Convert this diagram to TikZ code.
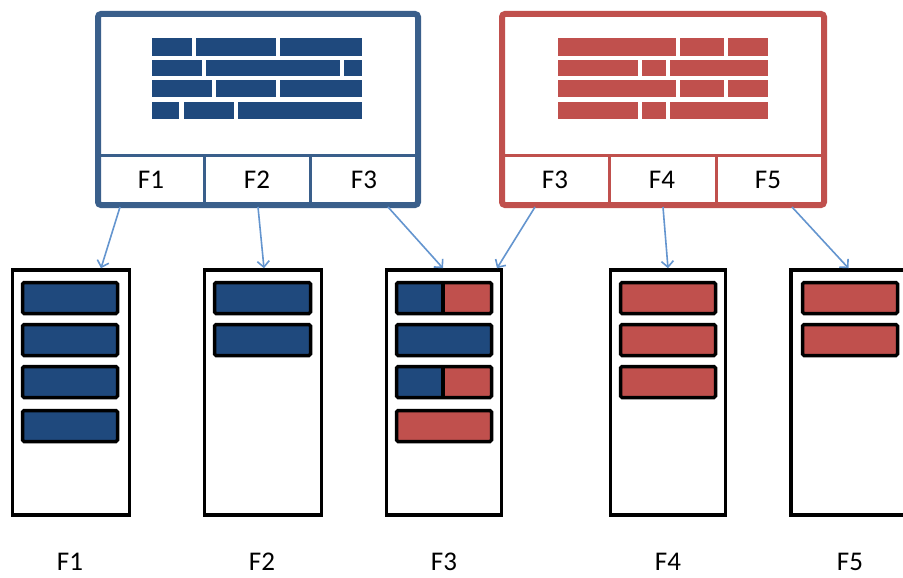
\documentclass[tikz,border=0pt]{standalone}
\usepackage{fontspec}
\setmainfont{Carlito}
\usetikzlibrary{arrows.meta}
\definecolor{bbrick}{HTML}{1F497D}
\definecolor{bline}{HTML}{3A5F8B}
\definecolor{rbrick}{HTML}{C0504D}
\definecolor{rline}{HTML}{C0504D}
\definecolor{arrc}{HTML}{6495CF}
\tikzset{
  topbox/.style={draw=#1, line width=6pt, rounded corners=3pt, inner sep=0pt},
  divider/.style={draw=#1, line width=3pt},
  cell/.style={font=\fontsize{27}{29}\selectfont, text=black, inner sep=0pt},
  lbl/.style={font=\fontsize{27}{29}\selectfont, text=black, inner sep=0pt},
  store/.style={draw=black, line width=3.5pt, fill=white, inner sep=0pt},
  bar/.style={draw=black, line width=3.5pt, rounded corners=1.5pt},
  arr/.style={draw=arrc, line width=1.6pt, -{Straight Barb[length=6pt,width=12pt,line width=1.6pt]}},
}
\begin{document}
\begin{tikzpicture}[x=1pt,y=-1pt]
\useasboundingbox (0,0) rectangle (903,578);
\fill[white] (0,0) rectangle (903,578);

% ---------- blue top box ----------
\node[topbox=bline, minimum width=320pt, minimum height=191pt] (bluebox) at (258,109.5) {};
\draw[divider=bline] (98,155) -- (418,155);
\draw[divider=bline] (204,155) -- (204,205);
\draw[divider=bline] (310,155) -- (310,205);
\node[cell] (bc1) at (151,180) {F1};
\node[cell] (bc2) at (257,180) {F2};
\node[cell] (bc3) at (364,180) {F3};
\begin{scope}[bbrick]
\fill (152,38) rectangle (192,56);
\fill (196,38) rectangle (276,56);
\fill (280,38) rectangle (362,56);
\fill (152,60) rectangle (202,76);
\fill (206,60) rectangle (340,76);
\fill (344,60) rectangle (362,76);
\fill (152,80) rectangle (212,97);
\fill (216,80) rectangle (276,97);
\fill (280,80) rectangle (362,97);
\fill (152,102) rectangle (179,119);
\fill (184,102) rectangle (234,119);
\fill (238,102) rectangle (362,119);
\end{scope}

% ---------- red top box ----------
\node[topbox=rline, minimum width=322pt, minimum height=191pt] (redbox) at (663,109.5) {};
\draw[divider=rline] (502,155) -- (824,155);
\draw[divider=rline] (609,155) -- (609,205);
\draw[divider=rline] (716,155) -- (716,205);
\node[cell] (rc3) at (555,180) {F3};
\node[cell] (rc4) at (662,180) {F4};
\node[cell] (rc5) at (768,180) {F5};
\begin{scope}[rbrick]
\fill (558,38) rectangle (676,56);
\fill (680,38) rectangle (724,56);
\fill (728,38) rectangle (768,56);
\fill (558,60) rectangle (638,76);
\fill (642,60) rectangle (666,76);
\fill (670,60) rectangle (768,76);
\fill (558,80) rectangle (676,97);
\fill (680,80) rectangle (724,97);
\fill (728,80) rectangle (768,97);
\fill (558,102) rectangle (638,119);
\fill (642,102) rectangle (666,119);
\fill (670,102) rectangle (768,119);
\end{scope}

% ---------- storage boxes ----------
\node[store, minimum width=117pt, minimum height=245pt] (b1) at (71,392.5) {};
\node[store, minimum width=117pt, minimum height=245pt] (b2) at (263,392.5) {};
\node[store, minimum width=115pt, minimum height=245pt] (b3) at (444,392.5) {};
\node[store, minimum width=115pt, minimum height=245pt] (b4) at (668,392.5) {};
\node[store, minimum width=117pt, minimum height=245pt] (b5) at (849.5,392.5) {};

% bars box 1
\foreach \ya/\yb in {282.5/313.5, 324.5/355.5, 366.5/397.5, 410.5/441.5}
  \draw[bar, fill=bbrick] (22.5,\ya) rectangle (117.5,\yb);
% bars box 2
\foreach \ya/\yb in {282.5/313.5, 324.5/355.5}
  \draw[bar, fill=bbrick] (214.5,\ya) rectangle (310.5,\yb);
% bars box 3
\foreach \ya/\yb in {282.5/313.5, 366.5/397.5}{
  \fill[bbrick] (396.5,\ya) rectangle (443,\yb);
  \fill[rbrick] (443,\ya) rectangle (491.5,\yb);
  \draw[black, line width=3.5pt] (443,\ya) -- (443,\yb);
  \draw[bar] (396.5,\ya) rectangle (491.5,\yb);
}
\draw[bar, fill=bbrick] (396.5,324.5) rectangle (491.5,355.5);
\draw[bar, fill=rbrick] (396.5,410.5) rectangle (491.5,441.5);
% bars box 4
\foreach \ya/\yb in {282.5/313.5, 324.5/355.5, 366.5/397.5}
  \draw[bar, fill=rbrick] (620.5,\ya) rectangle (715.5,\yb);
% bars box 5
\foreach \ya/\yb in {282.5/313.5, 324.5/355.5}
  \draw[bar, fill=rbrick] (802.5,\ya) rectangle (897.5,\yb);

% ---------- labels ----------
\node[lbl] (l1) at (70,562) {F1};
\node[lbl] (l2) at (262,562) {F2};
\node[lbl] (l3) at (444,562) {F3};
\node[lbl] (l4) at (668,562) {F4};
\node[lbl] (l5) at (850,562) {F5};

% ---------- arrows ----------
\draw[arr] ([xshift=-138pt]bluebox.south) ++(0,-1) coordinate (s1) (s1) -- ([xshift=30pt]b1.north);
\draw[arr] ([xshift=0pt]bluebox.south) ++(0,-1) coordinate (s2) (s2) -- ([xshift=1pt]b2.north);
\draw[arr] ([xshift=130pt]bluebox.south) ++(0,-1) coordinate (s3) (s3) -- ([xshift=-1pt]b3.north);
\draw[arr] ([xshift=-128pt]redbox.south) ++(0,-1) coordinate (s4) (s4) -- ([xshift=53pt]b3.north);
\draw[arr] ([xshift=0pt]redbox.south) ++(0,-1) coordinate (s5) (s5) -- ([xshift=0pt]b4.north);
\draw[arr] ([xshift=129pt]redbox.south) ++(0,-1) coordinate (s6) (s6) -- ([xshift=-1pt]b5.north);
\end{tikzpicture}
\end{document}
